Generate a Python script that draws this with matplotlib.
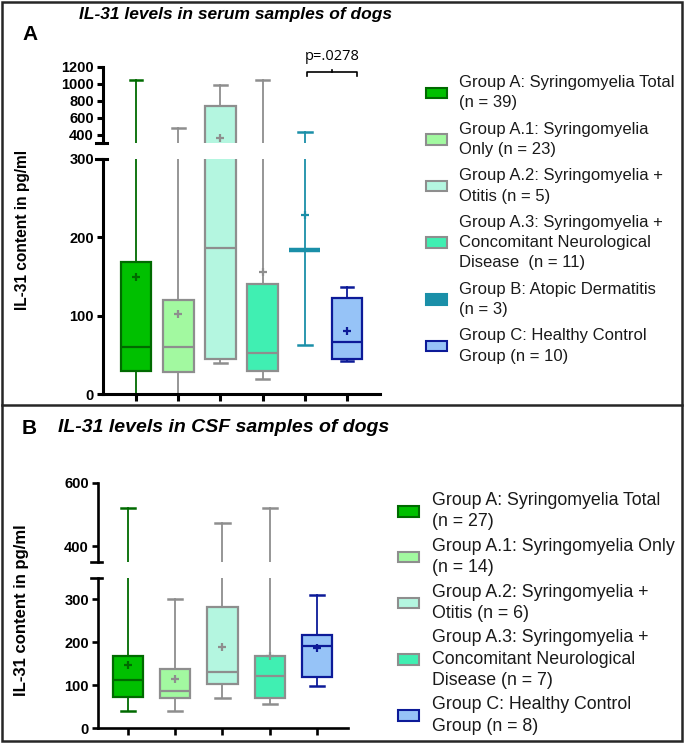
import matplotlib
matplotlib.use("Agg")
import matplotlib.pyplot as plt
from matplotlib.patches import Patch, Rectangle
from matplotlib.lines import Line2D

plt.rcParams["font.family"] = ["Liberation Sans", "DejaVu Sans"]

W, H = 685, 743

# ---- data: panel A (serum) ----
serum_groups = ["Group A: Syringomyelia Total\n(n = 39)",
                "Group A.1: Syringomyelia\nOnly (n = 23)",
                "Group A.2: Syringomyelia +\nOtitis (n = 5)",
                "Group A.3: Syringomyelia +\nConcomitant Neurological\nDisease  (n = 11)",
                "Group B: Atopic Dermatitis\n(n = 3)",
                "Group C: Healthy Control\nGroup (n = 10)"]
serum_whislo = [0, 0, 40, 19, 63, 42]
serum_q1 = [29, 28, 45, 30, 184, 45]
serum_med = [60, 60, 186, 52, 184, 67]
serum_q3 = [169, 120, 740, 141, 184, 123]
serum_whishi = [1050, 475, 990, 1050, 430, 137]
serum_mean = [149, 102, 355, 156, 228, 80]
serum_p = "p=.0278"

# ---- data: panel B (CSF) ----
csf_groups = ["Group A: Syringomyelia Total\n(n = 27)",
              "Group A.1: Syringomyelia Only\n(n = 14)",
              "Group A.2: Syringomyelia +\nOtitis (n = 6)",
              "Group A.3: Syringomyelia +\nConcomitant Neurological\nDisease (n = 7)",
              "Group C: Healthy Control\nGroup (n = 8)"]
csf_whislo = [40, 40, 69, 55, 99]
csf_q1 = [72, 71, 103, 70, 119]
csf_med = [113, 87, 130, 121, 192]
csf_q3 = [167, 137, 283, 169, 216]
csf_whishi = [520, 300, 474, 520, 310]
csf_mean = [146, 115, 190, 168, 186]

# fill / edge colours per group
col_A = ("#00c000", "#006a00")
col_A1 = ("#a2f9a0", "#8e8e8e")
col_A2 = ("#b4f6e0", "#8e8e8e")
col_A3 = ("#40efb2", "#8e8e8e")
col_B = ("#1a8fa8", "#1a8fa8")
col_C = ("#96c3f7", "#0c1a98")
serum_colors = [col_A, col_A1, col_A2, col_A3, col_B, col_C]
csf_colors = [col_A, col_A1, col_A2, col_A3, col_C]


def add_ax(fig, left, top, right, bottom):
    return fig.add_axes([left / W, 1 - bottom / H, (right - left) / W, (bottom - top) / H])


def draw_boxes(ax, whislo, q1, med, q3, whishi, mean, colors, width, lw_box):
    for i in range(len(med)):
        fill, edge = colors[i]
        stats = [dict(whislo=whislo[i], q1=q1[i], med=med[i], q3=q3[i],
                      whishi=whishi[i], mean=mean[i], fliers=[])]
        flat = q1[i] == q3[i]
        ax.bxp(stats, positions=[i + 1], widths=width, patch_artist=True,
               showmeans=True, capwidths=0.3 if not flat else 0.32,
               boxprops=dict(facecolor=fill, edgecolor=edge, linewidth=lw_box),
               medianprops=dict(color=edge, linewidth=3.2 if flat else lw_box),
               whiskerprops=dict(color=edge, linewidth=1.3),
               capprops=dict(color=edge, linewidth=1.8),
               meanprops=dict(marker="+", markeredgecolor=edge, markersize=6,
                              markeredgewidth=1.6),
               manage_ticks=False)


def style_axes(ax, spine_lw, bottom=True):
    for s in ["top", "right"]:
        ax.spines[s].set_visible(False)
    ax.spines["left"].set_linewidth(spine_lw)
    ax.tick_params(axis="y", length=4.5, width=spine_lw, labelsize=10.5, pad=2)
    if bottom:
        ax.spines["bottom"].set_linewidth(spine_lw)
        ax.tick_params(axis="x", length=5, width=spine_lw, labelbottom=False)
    else:
        ax.spines["bottom"].set_visible(False)
        ax.tick_params(axis="x", bottom=False, labelbottom=False)
    for lab in ax.get_yticklabels():
        lab.set_fontweight("bold")


def break_bar(ax, y, lw):
    # short horizontal bar across the spine where the axis is broken
    bar = Line2D([-7 / ax.bbox.width, 4 / ax.bbox.width], [y, y], transform=ax.get_yaxis_transform(),
                 color="black", lw=lw, clip_on=False)
    ax.add_line(bar)


def style_legend(leg, spacing):
    for t in leg.get_texts():
        t.set_linespacing(spacing)
        t.set_color("#1a1a1a")


fig = plt.figure(figsize=(W / 100, H / 100), dpi=100)

# ================= panel A =================
xlimA = (1 - 33 / 42.2, 6 + 33 / 42.2)
axA_top = add_ax(fig, 103, 67, 380, 143)
axA_bot = add_ax(fig, 103, 159, 380, 394)
for ax in (axA_top, axA_bot):
    draw_boxes(ax, serum_whislo, serum_q1, serum_med, serum_q3, serum_whishi,
               serum_mean, serum_colors, 0.73, 1.6)
    ax.set_xlim(*xlimA)
axA_top.set_ylim(300, 1200)
axA_top.set_yticks([400, 600, 800, 1000, 1200])
axA_bot.set_ylim(0, 300)
axA_bot.set_yticks([0, 100, 200, 300])
axA_bot.set_xticks(range(1, len(serum_med) + 1))
style_axes(axA_top, 2.2, bottom=False)
style_axes(axA_bot, 2.2)
break_bar(axA_top, 300, 2.2)
break_bar(axA_bot, 300, 2.2)

# significance bracket between Group B and Group C
bx0, bx1 = 5 + 0.05, 6 + 0.24
by = 1138
axA_top.plot([bx0, bx0, bx1, bx1], [by - 40, by, by, by - 40], color="black", lw=1.2, clip_on=False)
axA_top.plot([(bx0 + bx1) / 2] * 2, [by, by + 30], color="black", lw=1.2, clip_on=False)
axA_top.text((bx0 + bx1) / 2, by + 100, serum_p, ha="center", va="bottom", fontsize=10.5,
             family=["Open Sans", "DejaVu Sans"], clip_on=False)

fig.text(235 / W, 1 - 14 / H, "IL-31 levels in serum samples of dogs", ha="center", va="center",
         fontsize=12.5, fontweight="bold", fontstyle="italic")
fig.text(30 / W, 1 - 35 / H, "A", ha="center", va="center", fontsize=15, fontweight="bold")
fig.text(23 / W, 1 - 230 / H, "IL-31 content in pg/ml", ha="center", va="center",
         rotation=90, fontsize=11.2, fontweight="bold")

handlesA = [Patch(facecolor=f, edgecolor=e, linewidth=1.5) for f, e in serum_colors]
legA = fig.legend(handlesA, serum_groups, loc="upper left", bbox_to_anchor=(426 / W, 1 - 75 / H),
                  frameon=False, fontsize=12, borderpad=0, borderaxespad=0,
                  handlelength=1.25, handleheight=0.6, handletextpad=0.75, labelspacing=0.67)
style_legend(legA, 1.45)

# ================= panel B =================
xlimB = (1 - 30 / 47.2, 5 + 31 / 47.2)
axB_top = add_ax(fig, 98, 483, 348, 562)
axB_bot = add_ax(fig, 98, 578, 348, 728)
for ax in (axB_top, axB_bot):
    draw_boxes(ax, csf_whislo, csf_q1, csf_med, csf_q3, csf_whishi,
               csf_mean, csf_colors, 0.64, 1.6)
    ax.set_xlim(*xlimB)
axB_top.set_ylim(350, 600)
axB_top.set_yticks([400, 600])
axB_bot.set_ylim(0, 350)
axB_bot.set_yticks([0, 100, 200, 300])
axB_bot.set_xticks(range(1, len(csf_med) + 1))
style_axes(axB_top, 1.9, bottom=False)
style_axes(axB_bot, 1.9)
break_bar(axB_top, 350, 1.9)
break_bar(axB_bot, 350, 1.9)

fig.text(29 / W, 1 - 428 / H, "B", ha="center", va="center", fontsize=15, fontweight="bold")
fig.text(58 / W, 1 - 428 / H, "IL-31 levels in CSF samples of dogs", ha="left", va="center",
         fontsize=14, fontweight="bold", fontstyle="italic")
fig.text(22 / W, 1 - 610 / H, "IL-31 content in pg/ml", ha="center", va="center",
         rotation=90, fontsize=12, fontweight="bold")

handlesB = [Patch(facecolor=f, edgecolor=e, linewidth=1.5) for f, e in csf_colors]
legB = fig.legend(handlesB, csf_groups, loc="upper left", bbox_to_anchor=(398 / W, 1 - 492 / H),
                  frameon=False, fontsize=12.8, borderpad=0, borderaxespad=0,
                  handlelength=1.2, handleheight=0.55, handletextpad=0.7, labelspacing=0.43)
style_legend(legB, 1.32)

# panel frames
fig.patches.append(Rectangle((1.5 / W, 1 - 741 / H), 680.5 / W, 739.5 / H, transform=fig.transFigure,
                             fill=False, edgecolor="#262626", linewidth=1.8))
fig.lines.append(Line2D([1.5 / W, 682 / W], [1 - 405 / H] * 2, transform=fig.transFigure,
                        color="#262626", linewidth=1.8))

fig.savefig("out.png", dpi=100)
